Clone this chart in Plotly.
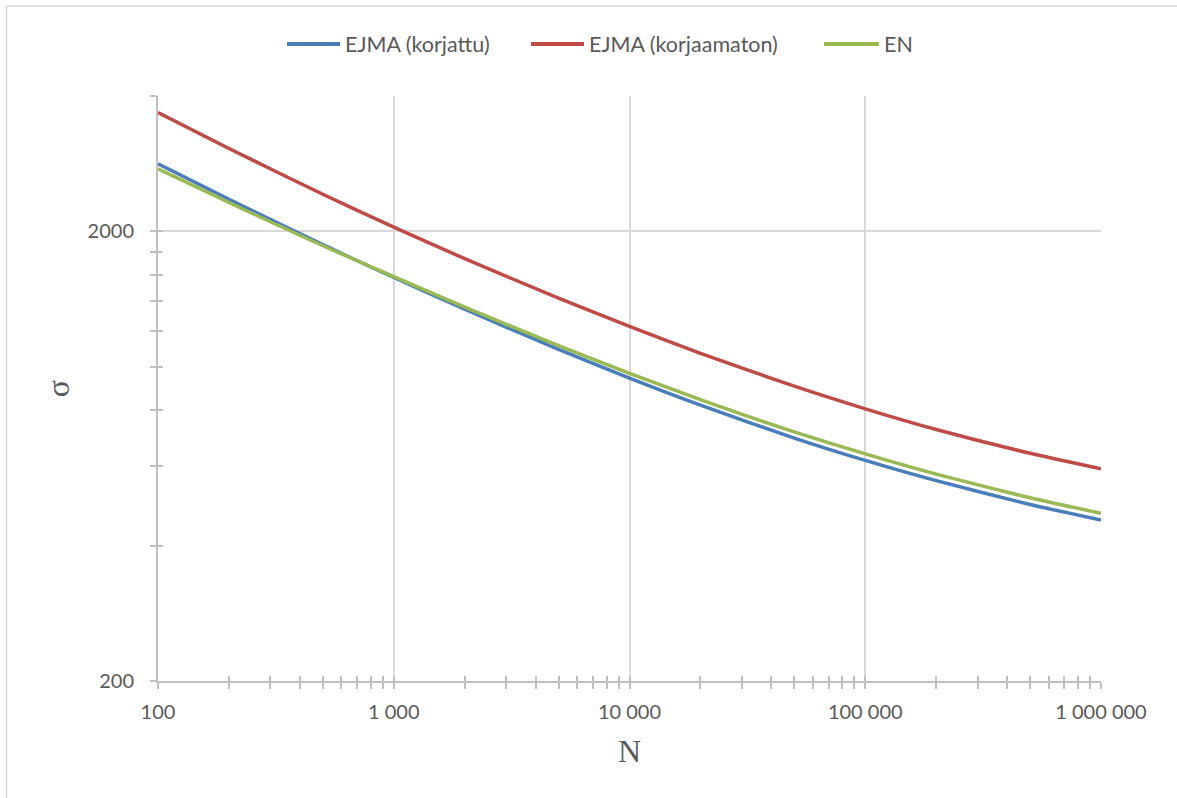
import math
import plotly.graph_objects as go

# ---- data ----
N_values = [100, 200, 500, 1000, 2000, 5000, 10000, 20000, 50000, 100000, 200000, 500000, 1000000]
ejma_korjattu = [2828, 2358, 1868, 1579, 1342, 1093, 943, 821, 694, 619, 558, 494, 456]
ejma_korjaamaton = [3677, 3057, 2418, 2043, 1739, 1421, 1230, 1071, 905, 806, 725, 642, 593]
en_values = [2756, 2318, 1858, 1587, 1357, 1114, 967, 845, 716, 640, 577, 511, 472]

series_names = ["EJMA (korjattu)", "EJMA (korjaamaton)", "EN"]
series_colors = ["#4A7EBB", "#BE4B48", "#98B954"]

x_major = [100, 1000, 10000, 100000, 1000000]
x_major_text = ["100", "1 000", "10 000", "100 000", "1 000 000"]
x_minor = [m * d for d in [100, 1000, 10000, 100000] for m in range(2, 10)]
y_major = [200, 2000]
y_major_text = ["200", "2000"]
y_minor = [400, 600, 800, 1000, 1200, 1400, 1600, 1800, 4000]

x_range = [100, 1000000]
y_range = [200, 4000]

xr = [math.log10(v) for v in x_range]
yr = [math.log10(v) for v in y_range]

W, H = 1177, 798
L, R, T, B = 158, 76, 96, 117
pw, ph = W - L - R, H - T - B

AXIS = "#BFBFBF"
GRID = "#D9D9D9"
TXT = "#595959"
FONT = "Lato"


def px_x(px):
    return (px - L) / pw


def px_y(py):
    return (H - B - py) / ph


fig = go.Figure()
for name, vals, col in zip(series_names, [ejma_korjattu, ejma_korjaamaton, en_values], series_colors):
    fig.add_trace(go.Scatter(x=N_values, y=vals, mode="lines", name=name, showlegend=False,
                             line=dict(color=col, width=3.5, shape="spline", smoothing=0.6)))

# invisible trace to host overlay axes (inner halves of crossing ticks)
fig.add_trace(go.Scatter(x=[], y=[], xaxis="x2", yaxis="y2", showlegend=False, hoverinfo="skip"))

fig.update_layout(
    width=W, height=H,
    margin=dict(l=L, r=R, t=T, b=B),
    paper_bgcolor="white", plot_bgcolor="white",
    font=dict(family=FONT, size=20, color=TXT),
    showlegend=False,
    xaxis=dict(type="log", range=xr, showline=True, linecolor=AXIS, linewidth=2,
               showgrid=True, gridcolor=GRID, gridwidth=1.5,
               tickmode="array", tickvals=x_major, ticktext=x_major_text,
               ticks="outside", ticklen=6, tickwidth=1.5, tickcolor=AXIS,
               ticklabelstandoff=6,
               minor=dict(tickmode="array", tickvals=x_minor, ticks="outside",
                          ticklen=6, tickwidth=1.5, tickcolor=AXIS, showgrid=False),
               tickfont=dict(family=FONT, size=20, color=TXT),
               title=dict(text="N", font=dict(family="Liberation Serif", size=32, color=TXT), standoff=18),
               zeroline=False),
    yaxis=dict(type="log", range=yr, showline=True, linecolor=AXIS, linewidth=2,
               showgrid=True, gridcolor=GRID, gridwidth=1.5,
               tickmode="array", tickvals=y_major, ticktext=y_major_text,
               ticks="outside", ticklen=6, tickwidth=1.5, tickcolor=AXIS,
               ticklabelstandoff=12,
               minor=dict(tickmode="array", tickvals=y_minor, ticks="outside",
                          ticklen=6, tickwidth=1.5, tickcolor=AXIS, showgrid=False),
               tickfont=dict(family=FONT, size=20, color=TXT),
               title=dict(text="σ", font=dict(family="Liberation Serif", size=32, color=TXT), standoff=8),
               zeroline=False),
    xaxis2=dict(type="log", range=xr, overlaying="x", anchor="y", side="bottom",
                showline=False, showgrid=False, showticklabels=False, zeroline=False,
                tickmode="array", tickvals=x_major, ticks="inside", ticklen=5,
                tickwidth=1.5, tickcolor=AXIS,
                minor=dict(tickmode="array", tickvals=x_minor, ticks="inside",
                           ticklen=5, tickwidth=1.5, tickcolor=AXIS, showgrid=False)),
    yaxis2=dict(type="log", range=yr, overlaying="y", anchor="x", side="left",
                showline=False, showgrid=False, showticklabels=False, zeroline=False,
                tickmode="array", tickvals=y_major, ticks="inside", ticklen=5,
                tickwidth=1.5, tickcolor=AXIS,
                minor=dict(tickmode="array", tickvals=y_minor, ticks="inside",
                           ticklen=5, tickwidth=1.5, tickcolor=AXIS, showgrid=False)),
)

# custom legend (longer line samples, Excel-like spacing)
legend_line_px = [(287, 340), (531, 584), (824, 879)]
legend_y_px = 44
for name, col, (x0, x1) in zip(series_names, series_colors, legend_line_px):
    fig.add_shape(type="line", xref="paper", yref="paper",
                  x0=px_x(x0), x1=px_x(x1), y0=px_y(legend_y_px), y1=px_y(legend_y_px),
                  line=dict(color=col, width=4))
    fig.add_annotation(xref="paper", yref="paper", x=px_x(x1 + 3), y=px_y(legend_y_px),
                       xanchor="left", yanchor="middle", showarrow=False, text=name,
                       font=dict(family=FONT, size=21.5, color=TXT))

# chart-area border (top and left visible in the reference, right/bottom cut off)
fig.add_shape(type="rect", xref="paper", yref="paper",
              x0=px_x(6.5), x1=px_x(W + 10), y0=px_y(H + 10), y1=px_y(6),
              line=dict(color=GRID, width=1.5), fillcolor="rgba(0,0,0,0)", layer="below")

fig.write_html("out.html")
